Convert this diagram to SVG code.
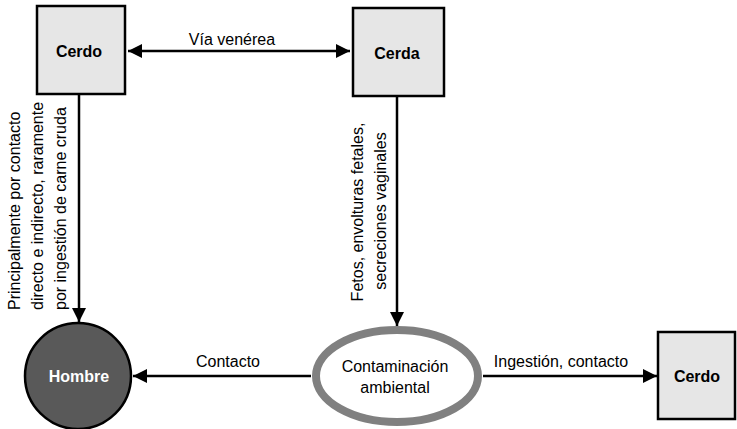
<svg xmlns="http://www.w3.org/2000/svg" width="737" height="429" viewBox="0 0 737 429">
<defs>
<style>
.box{fill:#e6e6e6;stroke:#000;stroke-width:2.5}
.bl{font-family:"Liberation Sans",Arial,sans-serif;font-size:16px;font-weight:bold;text-anchor:middle;fill:#000}
.lb{font-family:"Liberation Sans",Arial,sans-serif;font-size:16px;fill:#000}
.ln{stroke:#000;stroke-width:2.5;fill:none}
</style>
<marker id="ah" markerUnits="userSpaceOnUse" markerWidth="15" markerHeight="14" refX="14" refY="7" orient="auto-start-reverse">
<path d="M0,0 L14,7 L0,14 z" fill="#000"/>
</marker>
</defs>
<rect width="737" height="429" fill="#fff"/>
<g id="connectors">
<line class="ln" x1="128" y1="51" x2="350" y2="51" marker-start="url(#ah)" marker-end="url(#ah)"/>
<line class="ln" x1="79" y1="94" x2="79" y2="322" marker-end="url(#ah)"/>
<line class="ln" x1="397" y1="96" x2="397" y2="326" marker-end="url(#ah)"/>
<line class="ln" x1="311" y1="376" x2="133" y2="376" marker-end="url(#ah)"/>
<line class="ln" x1="483" y1="376" x2="657" y2="376" marker-end="url(#ah)"/>
<text class="lb" x="232" y="45" text-anchor="middle">Vía venérea</text>
<text class="lb" x="228" y="367" text-anchor="middle">Contacto</text>
<text class="lb" x="561" y="367" text-anchor="middle">Ingestión, contacto</text>
<g transform="rotate(-90)">
<text class="lb" x="-310" y="20">Principalmente por contacto</text>
<text class="lb" x="-310" y="43">directo e indirecto, raramente</text>
<text class="lb" x="-310" y="66">por ingestión de carne cruda</text>
<text class="lb" x="-212" y="363" text-anchor="middle">Fetos, envolturas fetales,</text>
<text class="lb" x="-211" y="386" text-anchor="middle">secreciones vaginales</text>
</g>
</g>
<g id="cerdo1">
<rect class="box" x="37" y="6" width="88" height="88"/>
<text class="bl" x="79" y="57">Cerdo</text>
</g>
<g id="cerda">
<rect class="box" x="353" y="8" width="91" height="88"/>
<text class="bl" x="397" y="59">Cerda</text>
</g>
<g id="hombre">
<circle cx="78" cy="376" r="53" fill="#595959" stroke="#000" stroke-width="2.5"/>
<text class="bl" x="79" y="382" fill="#fff" style="fill:#fff">Hombre</text>
</g>
<g id="contaminacion">
<ellipse cx="397" cy="376" rx="81" ry="46" fill="#fff" stroke="#808080" stroke-width="8"/>
<text class="lb" x="395" y="372" text-anchor="middle">Contaminación</text>
<text class="lb" x="395" y="393" text-anchor="middle">ambiental</text>
</g>
<g id="cerdo2">
<rect class="box" x="658" y="332" width="77" height="87"/>
<text class="bl" x="697" y="382">Cerdo</text>
</g>
</svg>
